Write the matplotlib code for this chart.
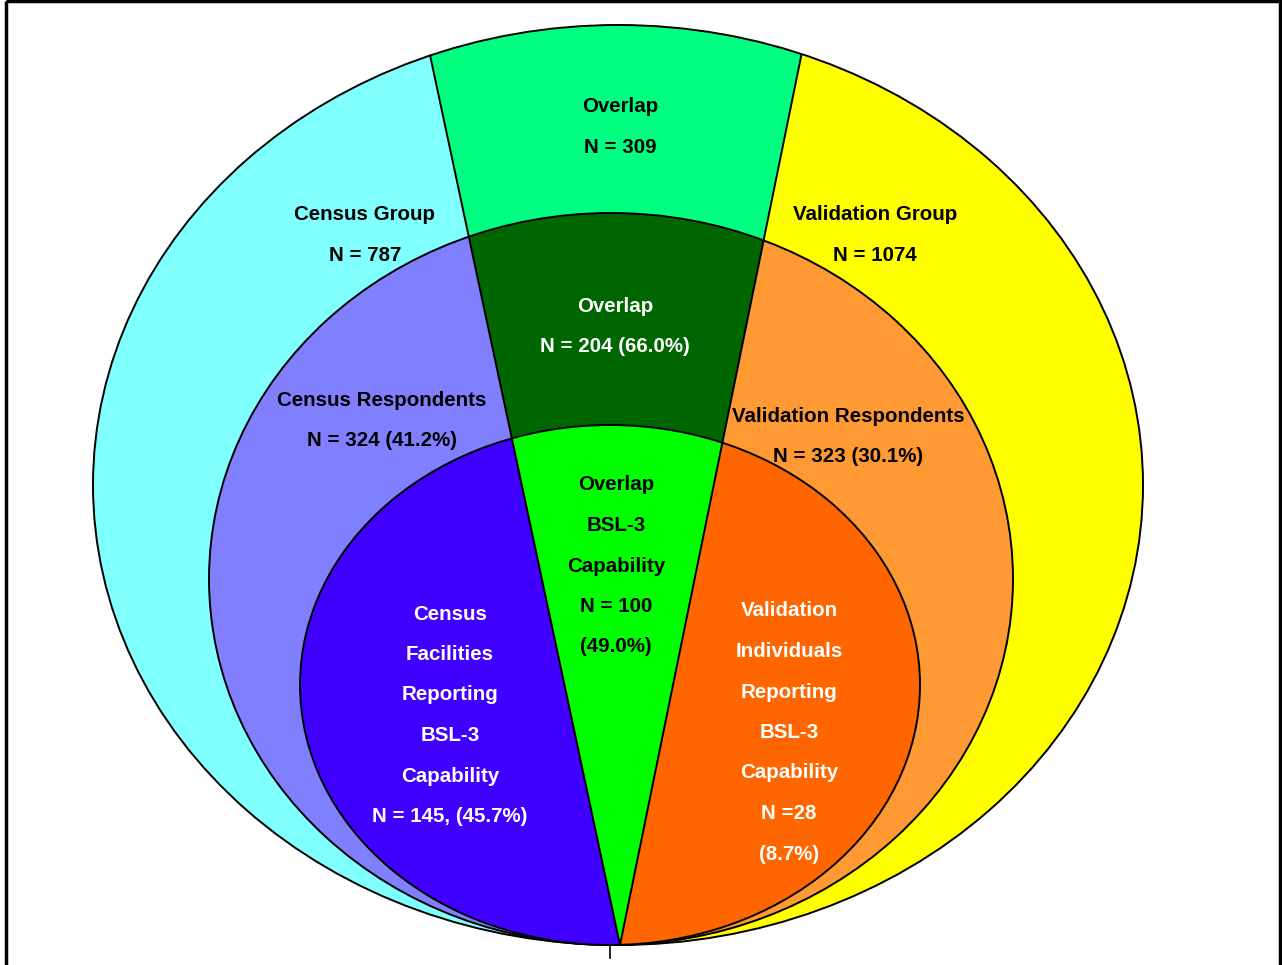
import matplotlib
matplotlib.use("Agg")
import matplotlib.pyplot as plt
from matplotlib.patches import Ellipse, Polygon, Rectangle
import numpy as np

plt.rcParams['font.family'] = ['Liberation Sans', 'DejaVu Sans']

# values
groups = ["Census Group", "Overlap", "Validation Group"]
group_n = [787, 309, 1074]
respondents = ["Census Respondents", "Overlap", "Validation Respondents"]
resp_n = [324, 204, 323]
resp_pct = [41.2, 66.0, 30.1]
bsl3_n = [145, 100, 28]
bsl3_pct = [45.7, 49.0, 8.7]

# colours, left / centre / right for each ring
outer_cols = ["#80FFFF", "#00FF80", "#FFFF00"]
middle_cols = ["#8080FF", "#006600", "#FF9933"]
inner_cols = ["#4000FF", "#00FF00", "#FF6600"]

fig = plt.figure(figsize=(12.82, 9.65), dpi=100)
ax = fig.add_axes([0, 0, 1, 1])
ax.set_xlim(0, 1282)
ax.set_ylim(965, 0)
ax.axis('off')

# frame round the picture
ax.add_patch(Rectangle((6, 1), 1274, 990, fill=False, ec='black', lw=2.5))
ax.plot([610, 610], [946, 958], color='black', lw=1.2)

apex = (620, 945)
ltop = (430, 55)
rtop = (802, 52)

def far(p, q, k=3.0):
    return (p[0] + (q[0] - p[0]) * k, p[1] + (q[1] - p[1]) * k)

lf = far(apex, ltop)
rf = far(apex, rtop)
clips = [
    [apex, lf, (-2000, -3000), (-2000, 3000), (apex[0], 3000)],
    [apex, lf, rf],
    [apex, rf, (3000, -3000), (3000, 3000), (apex[0], 3000)],
]

# centre x, centre y, width, height
rings = [
    ((618, 485), 1050, 920, outer_cols),
    ((611, 579), 804, 732, middle_cols),
    ((610, 685), 620, 520, inner_cols),
]

outer_patch = None
for z, (c, w, h, cols) in enumerate(rings):
    for poly, col in zip(clips, cols):
        e = Ellipse(c, w, h, fc=col, ec='none', zorder=2 + z)
        ax.add_patch(e)
        cp = Polygon(poly, closed=True, transform=ax.transData)
        e.set_clip_path(cp)
    edge = Ellipse(c, w, h, fc='none', ec='black', lw=1.4, zorder=2.5 + z)
    ax.add_patch(edge)
    if z == 0:
        outer_patch = Ellipse(c, w, h, transform=ax.transData)

for top in (lf, rf):
    ln, = ax.plot([apex[0], top[0]], [apex[1], top[1]], color='black', lw=1.4, zorder=10)
    ln.set_clip_path(outer_patch)

fs = 14.8
step = 40.5

def lines(x, y0, txts, color):
    for i, t in enumerate(txts):
        ax.text(x, y0 + i * step, t, ha='center', va='center', fontsize=fs,
                fontweight='bold', color=color, zorder=20)

lines(365, 215, [groups[0], "N = %d" % group_n[0]], 'black')
lines(620, 107, [groups[1], "N = %d" % group_n[1]], 'black')
lines(875, 215, [groups[2], "N = %d" % group_n[2]], 'black')

lines(382, 400, [respondents[0], "N = %d (%.1f%%)" % (resp_n[0], resp_pct[0])], 'black')
lines(615, 306, [respondents[1], "N = %d (%.1f%%)" % (resp_n[1], resp_pct[1])], 'white')
lines(848, 416, [respondents[2], "N = %d (%.1f%%)" % (resp_n[2], resp_pct[2])], 'black')

lines(450, 614, ["Census", "Facilities", "Reporting", "BSL-3", "Capability",
                 "N = %d, (%.1f%%)" % (bsl3_n[0], bsl3_pct[0])], 'white')
lines(616, 485, ["Overlap", "BSL-3", "Capability", "N = %d" % bsl3_n[1],
                 "(%.1f%%)" % bsl3_pct[1]], 'black')
lines(789, 611, ["Validation", "Individuals", "Reporting", "BSL-3", "Capability",
                 "N =%d" % bsl3_n[2], "(%.1f%%)" % bsl3_pct[2]], 'white')

fig.savefig("out.png", dpi=100)
